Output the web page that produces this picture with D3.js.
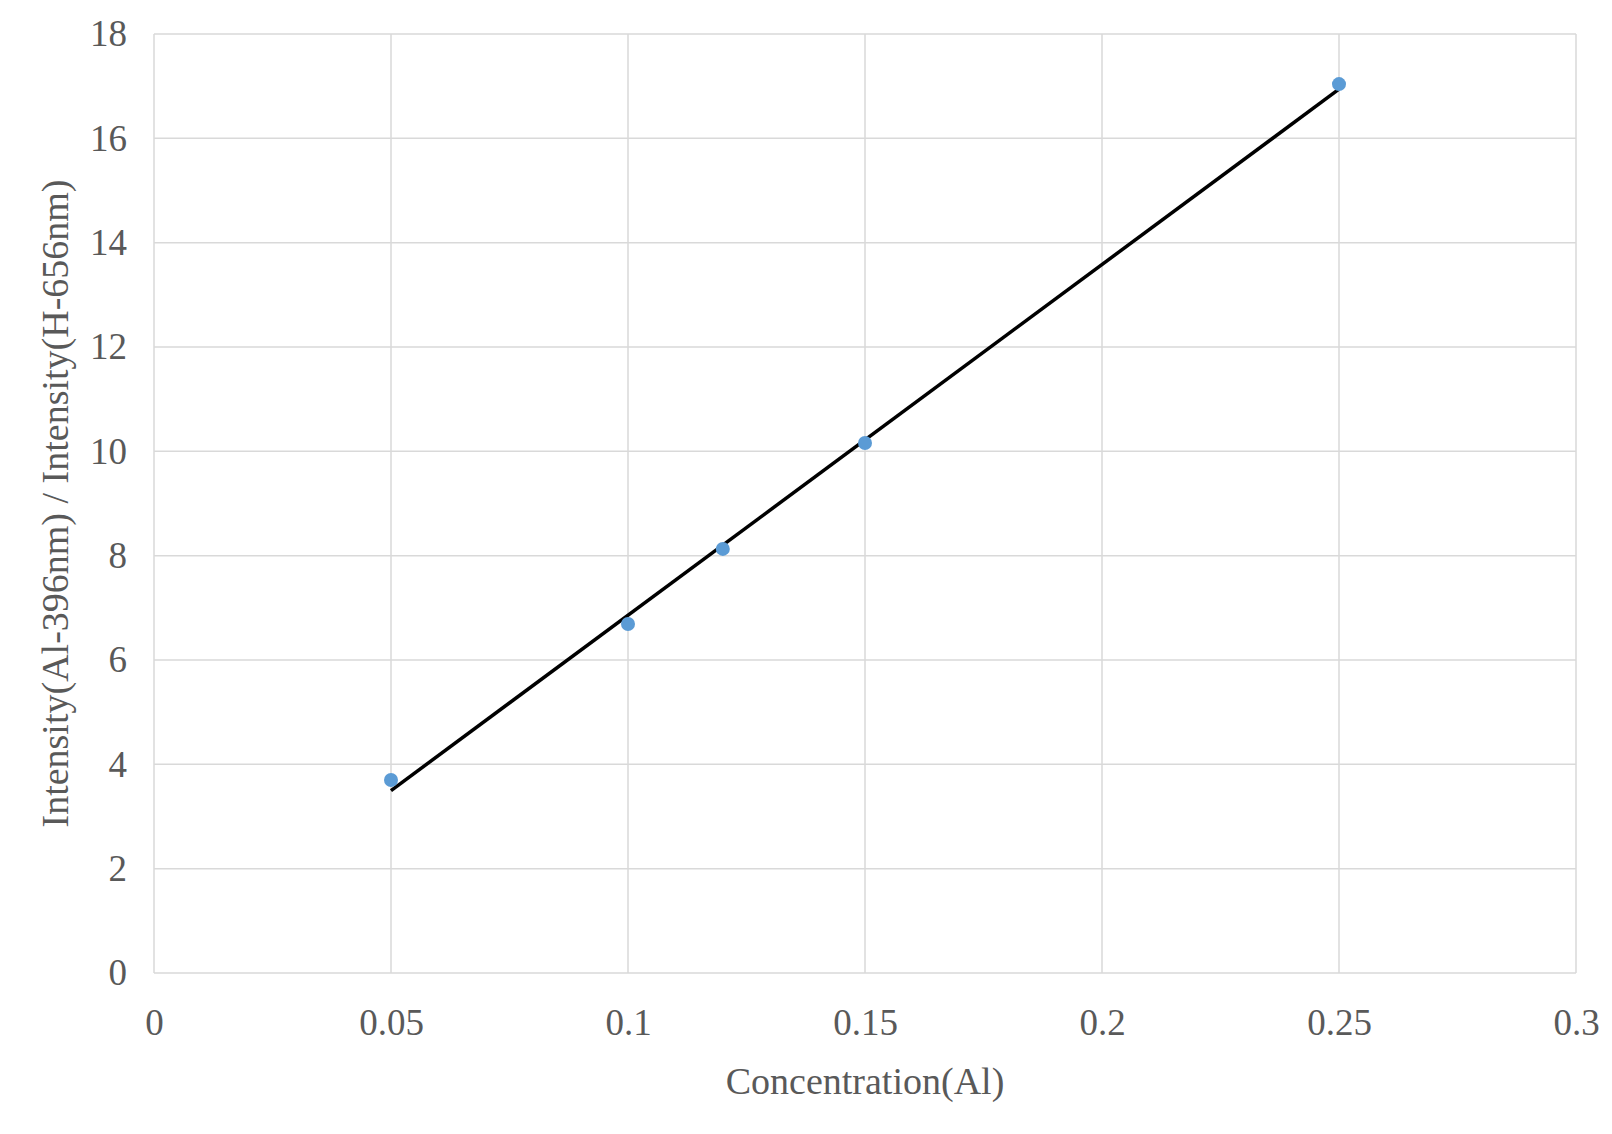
<!DOCTYPE html>
<html><head><meta charset="utf-8">
<script src="https://cdn.jsdelivr.net/npm/d3@7"></script>
<style>body{margin:0;background:#fff;} text{font-family:"Liberation Serif","Times New Roman",serif;fill:#595959;}</style>
</head><body>
<svg id="c" width="1612" height="1134"></svg>
<script>
const concentration = [0.05, 0.10, 0.12, 0.15, 0.25];
const intensityRatio = [3.70, 6.69, 8.13, 10.16, 17.04];
const xTicks = [0, 0.05, 0.1, 0.15, 0.2, 0.25, 0.3];
const yTicks = [0, 2, 4, 6, 8, 10, 12, 14, 16, 18];
const xTitle = "Concentration(Al)";
const yTitle = "Intensity(Al-396nm) / Intensity(H-656nm)";

const svg = d3.select("#c");
const m = {l:154, r:1576, t:34, b:973};
const x = d3.scaleLinear().domain([0,0.3]).range([m.l, m.r]);
const y = d3.scaleLinear().domain([0,18]).range([m.b, m.t]);

// grid
svg.append("g").selectAll("line").data(xTicks).join("line")
  .attr("x1", d=>x(d)).attr("x2", d=>x(d)).attr("y1", m.t).attr("y2", m.b)
  .attr("stroke", "#d9d9d9").attr("stroke-width", 1.5);
svg.append("g").selectAll("line").data(yTicks).join("line")
  .attr("x1", m.l).attr("x2", m.r).attr("y1", d=>y(d)).attr("y2", d=>y(d))
  .attr("stroke", "#d9d9d9").attr("stroke-width", 1.5);

// axes labels
const xAxis = svg.append("g").attr("transform", `translate(0,${m.b})`)
  .call(d3.axisBottom(x).tickValues(xTicks).tickFormat(d=>String(+d.toFixed(2))).tickSize(0).tickPadding(36));
const yAxis = svg.append("g").attr("transform", `translate(${m.l},0)`)
  .call(d3.axisLeft(y).tickValues(yTicks).tickFormat(d=>String(d)).tickSize(0).tickPadding(27));
[xAxis, yAxis].forEach(g=>{
  g.select(".domain").remove();
  g.selectAll("text").style("font-family","'Liberation Serif',serif").attr("fill","#595959").style("font-size","37px");
});

// regression trendline
const n = concentration.length;
const mx = d3.mean(concentration), my = d3.mean(intensityRatio);
let sxy=0, sxx=0;
for(let i=0;i<n;i++){ sxy+=(concentration[i]-mx)*(intensityRatio[i]-my); sxx+=(concentration[i]-mx)**2; }
const slope = sxy/sxx, icpt = my - slope*mx;
const xr = d3.extent(concentration);
svg.append("line")
  .attr("x1", x(xr[0])).attr("y1", y(icpt+slope*xr[0]))
  .attr("x2", x(xr[1])).attr("y2", y(icpt+slope*xr[1]))
  .attr("stroke", "#000").attr("stroke-width", 3.5);

// points
svg.append("g").selectAll("circle").data(concentration).join("circle")
  .attr("cx", d=>x(d)).attr("cy", (d,i)=>y(intensityRatio[i])).attr("r", 7)
  .attr("fill", "#5b9bd5");

// titles
svg.append("text").attr("x", (m.l+m.r)/2).attr("y", 1094).attr("text-anchor","middle")
  .style("font-size","38px").text(xTitle);
svg.append("text").attr("transform", `translate(68,${(m.t+m.b)/2}) rotate(-90)`).attr("text-anchor","middle")
  .style("font-size","38px").text(yTitle);
</script>
</body></html>
